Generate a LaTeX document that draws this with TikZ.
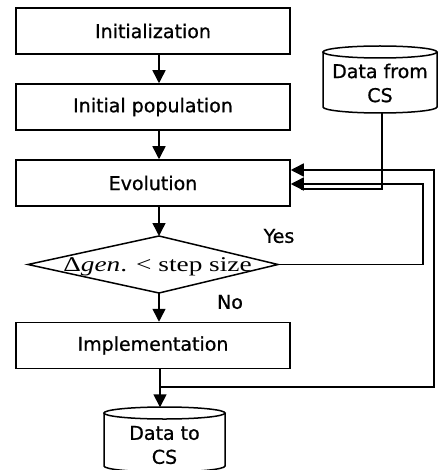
\documentclass[tikz,border=0pt]{standalone}
\usepackage{fontspec}
\setmainfont{DejaVu Sans}
\newfontfamily\semib{DejaVu Sans}[FakeBold=0.8]
\newfontfamily\tms{Liberation Serif}
\usetikzlibrary{arrows.meta}
\begin{document}
\begin{tikzpicture}[x=1pt,y=-1pt, line width=1.5pt,
  txt/.style={font=\semib\fontsize{19}{24}\selectfont, inner sep=0pt, align=center},
  box/.style={draw, txt, minimum width=274pt, minimum height=46pt},
  arr/.style={-{Triangle[length=13pt,width=13pt]}}]
\useasboundingbox (0,0) rectangle (438,470);
% process boxes
\node[box] (init) at (153,31) {Initialization};
\node[box] (pop)  at (153,107) {Initial population};
\node[box] (evo)  at (153,183) {Evolution};
\node[box] (impl) at (153,345.5) {Implementation};
% decision
\coordinate (dtop) at (159,236);
\coordinate (dleft) at (28,264.5);
\coordinate (dright) at (278,264.5);
\coordinate (dbot) at (159,293);
\draw (dtop) -- (dright) -- (dbot) -- (dleft) -- cycle;
\node[inner sep=0pt, anchor=base] (dec) at (157.5,271) {\scalebox{1.3}[1]{\tms\fontsize{21}{24}\selectfont Δ\textit{gen}. < step size}};
% labels
\node[txt] (yes) at (279,236) {Yes};
\node[txt] (no) at (230,302) {No};
% cylinder: data from CS
\draw (323,52) -- (323,107) arc[start angle=180,end angle=360,x radius=57pt,y radius=6pt] -- (437,52);
\draw[fill=white] (380,52) ellipse [x radius=57pt, y radius=6pt];
\node[txt] (dfc) at (380,83) {Data from\\CS};
\coordinate (dfcbot) at (382,113);
% cylinder: data to CS
\draw (104,413) -- (104,466) arc[start angle=180,end angle=360,x radius=60.5pt,y radius=6pt] -- (225,413);
\draw[fill=white] (164.5,413) ellipse [x radius=60.5pt, y radius=6pt];
\node[txt] (dtc) at (164.5,445) {Data to\\CS};
\coordinate (dtctop) at (160,407.3);
% main flow
\coordinate (ax) at (159,0);
\draw[arr] (init.south -| ax) -- (pop.north -| ax);
\draw[arr] (pop.south -| ax) -- (evo.north -| ax);
\draw[arr] (evo.south -| ax) -- (dtop);
\draw[arr] (dbot) -- (impl.north -| ax);
\coordinate (ax2) at (160,0);
\draw[arr] (impl.south -| ax2) -- (dtctop);
% feedback from implementation
\coordinate (fbj) at (160,387);
\coordinate (fbr) at (434,387);
\coordinate (fbt) at (434,170);
\draw[arr] (fbj) -- (fbr) -- (fbt) -- (evo.east |- fbt);
% yes loop
\coordinate (yr) at (423,264.5);
\coordinate (yt) at (423,184);
\draw[arr] (dright) -- (yr) -- (yt) -- (evo.east |- yt);
% data from CS input
\coordinate (dfcc) at (382,189);
\coordinate (dfce) at (301,189);
\draw (dfcbot) -- (dfcc) -- (dfce);
\end{tikzpicture}
\end{document}
